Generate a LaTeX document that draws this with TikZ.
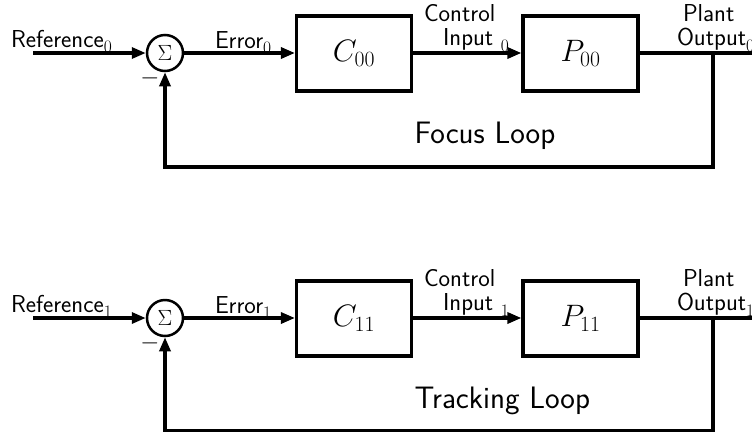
\documentclass[tikz,border=0pt]{standalone}
\usepackage{fix-cm}
\usepackage{fontspec}
\usetikzlibrary{arrows.meta}
\newcommand\lowsub[1]{\raisebox{-5.5pt}{\fontsize{17.5}{20}\selectfont\rmfamily #1}}
\begin{document}
\begin{tikzpicture}[x=1pt,y=-1pt,
  line width=3.2pt,
  lbl/.style={font=\fontsize{24.5}{28}\selectfont\sffamily, inner sep=0pt, line width=0pt},
  big/.style={font=\fontsize{31}{36}\selectfont\sffamily, inner sep=0pt},
  block/.style={draw, line width=3.2pt, minimum width=115pt, minimum height=75pt, inner sep=0pt, font=\fontsize{31}{36}\selectfont},
  sumnode/.style={draw, circle, line width=2.5pt, minimum size=36pt, inner sep=0pt, font=\fontsize{22}{26}\selectfont},
  arr/.style={-{Triangle[length=14pt,width=11pt]}, line width=3.2pt},
  wire/.style={line width=3.2pt}]
\useasboundingbox (0,0) rectangle (752,432);
\clip (0,0) rectangle (752,432);
% ---------- top loop ----------
\node[sumnode] (s0) at (165,53) {$\Sigma$};
\node[block] (c0) at (354,53.5) {$C_{00}$};
\node[block] (p0) at (580.5,53.5) {$P_{00}$};
\coordinate (in0) at (33,53);
\coordinate (out0) at (755,53);
\coordinate (fbr0) at (713,53);
\coordinate (fbl0) at (165,167);
\draw[arr] (in0) -- (s0);
\draw[arr] (s0) -- (c0.west |- s0);
\draw[arr] (c0.east |- s0) -- (p0.west |- s0);
\draw[wire] (p0.east |- s0) -- (out0);
\draw[arr] (fbr0) |- (fbl0) -- (s0.south);
\node[lbl, anchor=base west] (r0) at (11,47) {Reference\lowsub{0}};
\node[lbl, anchor=base west] (e0) at (215,48) {Error\lowsub{0}};
\node[lbl, anchor=base west] (ci0) at (424,21.5) {Control};
\node[lbl, anchor=base east] (cj0) at (509,45.5) {Input \lowsub{0}};
\node[lbl, anchor=base west] (po0) at (683,21.5) {Plant};
\node[lbl, anchor=base west] (pp0) at (677,45.5) {Output\lowsub{0}};
\node[lbl] (m0) at (150,78) {$-$};
\node[big, anchor=base west] (t0) at (413,143) {Focus Loop};
% ---------- bottom loop ----------
\node[sumnode] (s1) at (165,318) {$\Sigma$};
\node[block] (c1) at (354,318.5) {$C_{11}$};
\node[block] (p1) at (580.5,318.5) {$P_{11}$};
\coordinate (in1) at (33,318);
\coordinate (out1) at (755,318);
\coordinate (fbr1) at (713,318);
\coordinate (fbl1) at (165,430.5);
\draw[arr] (in1) -- (s1);
\draw[arr] (s1) -- (c1.west |- s1);
\draw[arr] (c1.east |- s1) -- (p1.west |- s1);
\draw[wire] (p1.east |- s1) -- (out1);
\draw[arr] (fbr1) |- (fbl1) -- (s1.south);
\node[lbl, anchor=base west] (r1) at (11,312) {Reference\lowsub{1}};
\node[lbl, anchor=base west] (e1) at (215,313) {Error\lowsub{1}};
\node[lbl, anchor=base west] (ci1) at (424,286.5) {Control};
\node[lbl, anchor=base east] (cj1) at (509,310.5) {Input \lowsub{1}};
\node[lbl, anchor=base west] (po1) at (683,286.5) {Plant};
\node[lbl, anchor=base west] (pp1) at (677,310.5) {Output\lowsub{1}};
\node[lbl] (m1) at (150,343) {$-$};
\node[big, anchor=base west] (t1) at (413,408) {Tracking Loop};
\end{tikzpicture}
\end{document}
